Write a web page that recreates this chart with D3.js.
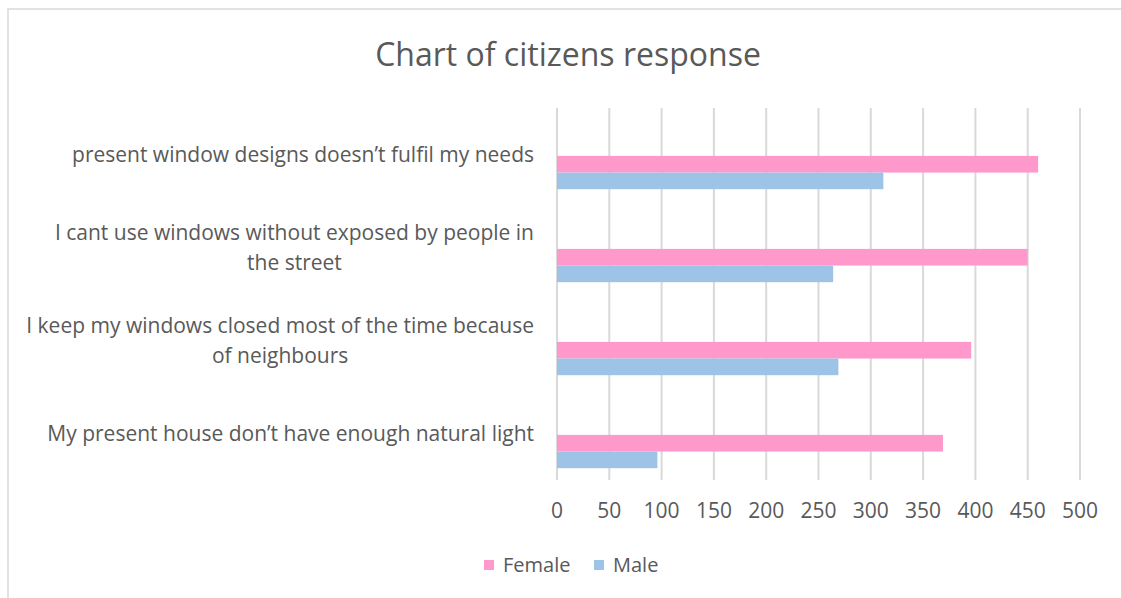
<!DOCTYPE html>
<html>
<head>
<meta charset="utf-8">
<script src="https://cdn.jsdelivr.net/npm/d3@7/dist/d3.min.js"></script>
<style>
  body { margin: 0; background: #fff; }
  text { font-family: "Open Sans", sans-serif; fill: #595959; }
</style>
</head>
<body>
<div id="chart"></div>
<script>
  'use strict';

  // data
  const categories = [
    'present window designs doesn\u2019t fulfil my needs',
    'I cant use windows without exposed by people in the street',
    'I keep my windows closed most of the time because of neighbours',
    'My present house don\u2019t have enough natural light'
  ];
  const seriesNames = ['Female', 'Male'];
  const femaleValues = [460, 450, 396, 369];
  const maleValues = [312, 264, 269, 96];
  const xTicks = [0, 50, 100, 150, 200, 250, 300, 350, 400, 450, 500];
  const colors = ['#ff99cc', '#9dc3e6'];

  const W = 1121, H = 598;
  const plotLeft = 557, plotRight = 1080, plotTop = 108, plotBottom = 480;
  const labelRight = 534;

  const svg = d3.select('#chart').append('svg')
    .attr('width', W)
    .attr('height', H);

  // chart frame
  svg.append('rect')
    .attr('x', 8).attr('y', 9)
    .attr('width', 1140).attr('height', 620)
    .attr('fill', 'none')
    .attr('stroke', '#d9d9d9')
    .attr('stroke-width', 1.5);

  svg.append('text')
    .attr('x', 568).attr('y', 55)
    .attr('dy', '0.35em')
    .attr('text-anchor', 'middle')
    .attr('font-size', '32px')
    .text('Chart of citizens response');

  const x = d3.scaleLinear().domain([0, 500]).range([plotLeft, plotRight]);
  const y = d3.scaleBand().domain(categories).range([plotTop, plotBottom]);
  const y1 = d3.scaleBand().domain(seriesNames)
    .range([y.bandwidth() * 0.515, y.bandwidth() * 0.873]);

  // gridlines
  svg.append('g').selectAll('line')
    .data(xTicks)
    .enter()
    .append('line')
    .attr('x1', d => x(d)).attr('x2', d => x(d))
    .attr('y1', plotTop).attr('y2', plotBottom)
    .attr('stroke', '#d9d9d9')
    .attr('stroke-width', 2);

  // tick labels
  svg.append('g').selectAll('text')
    .data(xTicks)
    .enter()
    .append('text')
    .attr('x', d => x(d))
    .attr('y', 511)
    .attr('dy', '0.35em')
    .attr('text-anchor', 'middle')
    .attr('font-size', '21px')
    .text(d => d);

  // bars
  const rows = categories.map((c, i) => ({ cat: c, vals: [femaleValues[i], maleValues[i]] }));
  const groups = svg.append('g').selectAll('g')
    .data(rows)
    .enter()
    .append('g')
    .attr('transform', d => `translate(0, ${y(d.cat)})`);

  groups.selectAll('rect')
    .data(d => d.vals.map((v, j) => ({ key: seriesNames[j], v: v, j: j })))
    .enter()
    .append('rect')
    .attr('x', x(0))
    .attr('y', d => y1(d.key))
    .attr('width', d => x(d.v) - x(0))
    .attr('height', y1.bandwidth())
    .attr('fill', d => colors[d.j]);

  // category labels, wrapped like Excel does
  const maxLabelWidth = 512;
  const lineHeight = 30;
  const labels = svg.append('g').selectAll('text')
    .data(categories)
    .enter()
    .append('text')
    .attr('font-size', '21px')
    .attr('text-anchor', 'middle');

  labels.each(function (d) {
    const el = d3.select(this);
    const words = d.split(' ');
    const lines = [];
    let cur = [];
    const probe = el.append('tspan');
    words.forEach(w => {
      const test = cur.concat([w]).join(' ');
      probe.text(test);
      if (probe.node().getComputedTextLength() > maxLabelWidth && cur.length) {
        lines.push(cur.join(' '));
        cur = [w];
      } else {
        cur.push(w);
      }
    });
    lines.push(cur.join(' '));
    probe.text(lines[0]);
    const blockWidth = probe.node().getComputedTextLength();
    probe.remove();
    const cy = y(d) + y.bandwidth() / 2;
    const y0 = cy - (lines.length - 1) * lineHeight / 2;
    lines.forEach((ln, k) => {
      el.append('tspan')
        .attr('x', labelRight - blockWidth / 2)
        .attr('y', y0 + k * lineHeight)
        .attr('dy', '0.35em')
        .text(ln);
    });
  });

  // legend
  const legendX = [484, 594];
  const legend = svg.append('g').selectAll('g')
    .data(seriesNames)
    .enter()
    .append('g')
    .attr('transform', (d, i) => `translate(${legendX[i]}, 565)`);

  legend.append('rect')
    .attr('x', 0).attr('y', -5)
    .attr('width', 10).attr('height', 10)
    .attr('fill', (d, i) => colors[i]);

  legend.append('text')
    .attr('x', 19)
    .attr('dy', '0.35em')
    .attr('font-size', '20px')
    .text(d => d);
</script>
</body>
</html>
